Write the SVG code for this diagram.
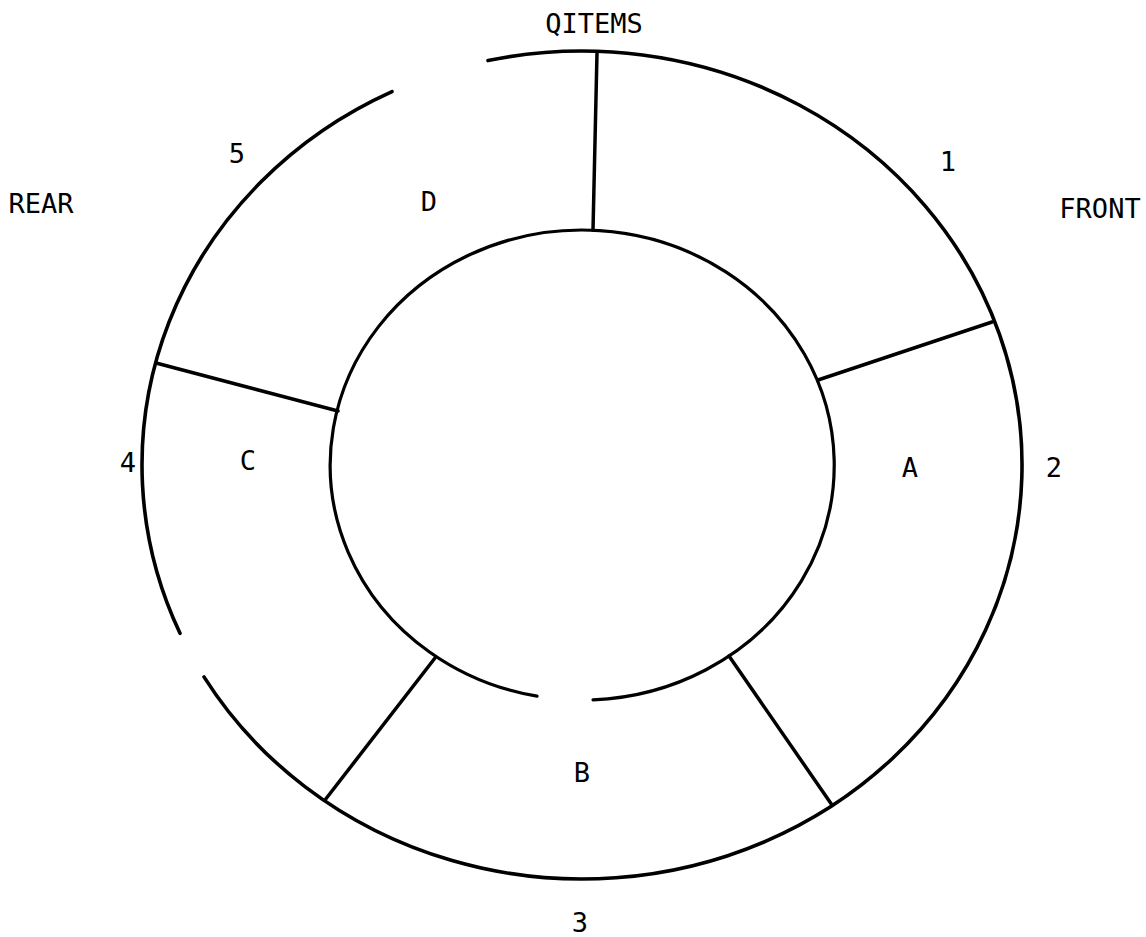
<svg xmlns="http://www.w3.org/2000/svg" width="1146" height="937" viewBox="0 0 1146 937">
  <style>
    .ring { fill: none; stroke: #000; stroke-width: 3.6; stroke-linecap: round; }
    .inner { fill: none; stroke: #000; stroke-width: 3.2; stroke-linecap: round; }
    .div { stroke: #000; stroke-width: 3.5; stroke-linecap: round; }
    .lbl { font-family: "DejaVu Sans Mono", "Liberation Mono", monospace; font-size: 27px; fill: #000; text-anchor: middle; }
  </style>
  <rect x="0" y="0" width="1146" height="937" fill="#fff"/>
  <g id="outer-ring">
    <path class="ring" d="M 488 60.6 A 440 414 0 1 1 204 676.9"/>
    <path class="ring" d="M 180 633.3 A 440 414 0 0 1 392 91.6"/>
  </g>
  <g id="inner-ring">
    <path class="inner" d="M 537 696.2 A 252 235 0 1 1 593 699.8"/>
  </g>
  <g id="connectors">
    <line class="div" x1="597" y1="53" x2="593" y2="230"/>
    <line class="div" x1="818" y1="380" x2="992" y2="322"/>
    <line class="div" x1="729" y1="656" x2="832" y2="805"/>
    <line class="div" x1="435" y1="658" x2="325" y2="800"/>
    <line class="div" x1="338" y1="411" x2="156" y2="363"/>
  </g>
  <g id="slot-A"><text class="lbl" x="910" y="477">A</text></g>
  <g id="slot-B"><text class="lbl" x="582" y="782">B</text></g>
  <g id="slot-C"><text class="lbl" x="248" y="470">C</text></g>
  <g id="slot-D"><text class="lbl" x="429" y="211">D</text></g>
  <g id="index-labels">
    <text class="lbl" x="948" y="171">1</text>
    <text class="lbl" x="1054" y="477">2</text>
    <text class="lbl" x="580" y="932">3</text>
    <text class="lbl" x="128" y="472">4</text>
    <text class="lbl" x="237" y="163">5</text>
  </g>
  <g id="pointer-labels">
    <text class="lbl" x="594" y="33">QITEMS</text>
    <text class="lbl" x="1100" y="218">FRONT</text>
    <text class="lbl" x="41" y="213">REAR</text>
  </g>
</svg>
